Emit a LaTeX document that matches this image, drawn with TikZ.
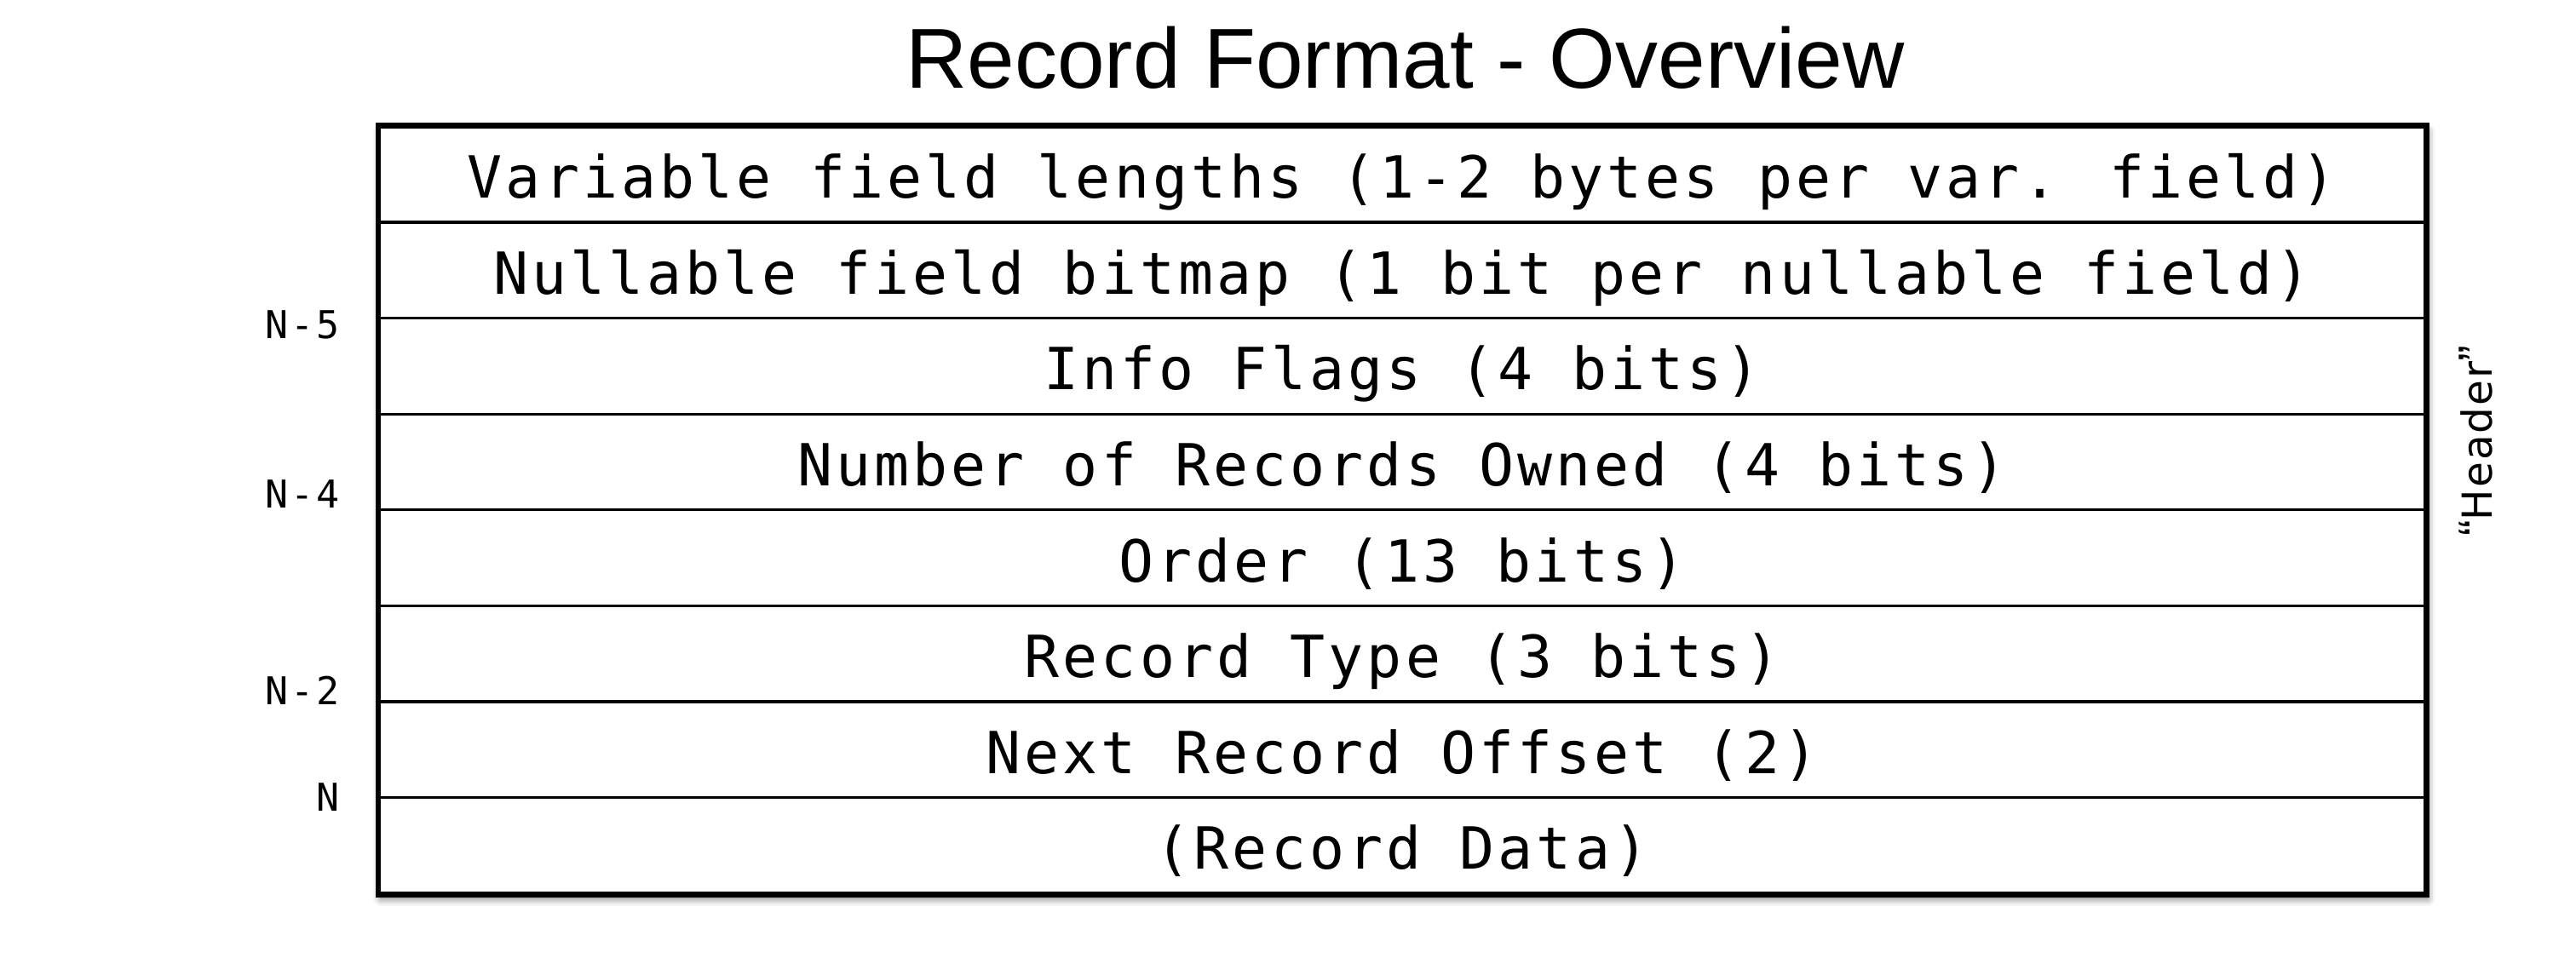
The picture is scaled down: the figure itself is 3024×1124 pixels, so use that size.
\documentclass[tikz,border=0pt]{standalone}
\usepackage{fontspec}
\setmainfont{Liberation Sans}
\newfontfamily\fieldfont[LetterSpace=6]{DejaVu Sans Mono}
\newfontfamily\notefont[LetterSpace=4]{DejaVu Sans}
\newfontfamily\quotefont{Liberation Sans}
\usetikzlibrary{shadows.blur}

\begin{document}
\begin{tikzpicture}[x=0.1mm, y=-0.1mm,
  titletext/.style={anchor=base, inner sep=0pt, font=\fontsize{28.45}{34}\selectfont},
  framebox/.style={draw, line width=1.28pt, fill=white, rectangle, inner sep=0pt,
    minimum width=240.2mm, minimum height=90.05mm,
    blur shadow={shadow xshift=0.25mm, shadow yshift=-0.6mm,
                 shadow blur radius=0.9mm, shadow opacity=60}},
  fieldrow/.style={draw, line width=0.94pt, rectangle, inner sep=0pt,
    minimum width=240.2mm, minimum height=11.256mm,
    text height=5.6mm, text depth=0pt,
    font=\fieldfont\fontsize{19.4}{23}\selectfont},
  offsetlabel/.style={anchor=base east, inner sep=0pt,
    font=\fieldfont\fontsize{12.8}{15}\selectfont},
  sidenote/.style={anchor=base, rotate=90, inner sep=0pt,
    font=\notefont\fontsize{13.8}{16}\selectfont}
]
\useasboundingbox (0,0) rectangle (3024,1124);

% title
\node[titletext] (title) at (1649.5,103) {Record Format - Overview};

% outer frame with its soft shadow
\node[framebox] (frame) at (1646,598.75) {};

% the eight stacked fields
\foreach \i/\txt in {
  1/{Variable field lengths (1-2 bytes per var. field)},
  2/{Nullable field bitmap (1 bit per nullable field)},
  3/{Info Flags (4 bits)},
  4/{Number of Records Owned (4 bits)},
  5/{Order (13 bits)},
  6/{Record Type (3 bits)},
  7/{Next Record Offset (2)},
  8/{(Record Data)}}
{
  \node[fieldrow] (row\i) at (1646,{148.5+(\i-0.5)*112.56}) {\txt};
}

% redraw the border so it sits above the row lines
\draw[line width=1.28pt] (frame.north west) rectangle (frame.south east);

% byte offsets on the left
\node[offsetlabel] (n5) at (399,397) {N-5};
\node[offsetlabel] (n4) at (399,596) {N-4};
\node[offsetlabel] (n2) at (399,827) {N-2};
\node[offsetlabel] (n0) at (399,952) {N};

% header note on the right
\node[sidenote] (hdr) at (2925,518)
  {{\quotefont\fontsize{16}{16}\selectfont “}Header{\quotefont\fontsize{16}{16}\selectfont ”}};
\end{tikzpicture}
\end{document}
